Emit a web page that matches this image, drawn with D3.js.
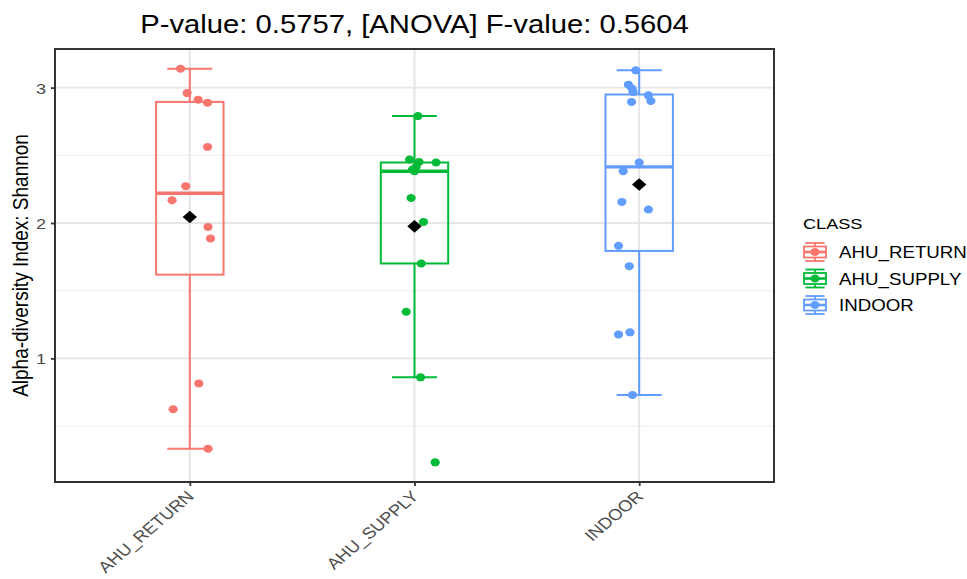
<!DOCTYPE html>
<html>
<head>
<meta charset="utf-8">
<script src="https://cdn.jsdelivr.net/npm/d3@7"></script>
<style>
  html, body { margin: 0; padding: 0; background: #fff; }
  svg { display: block; }
  svg text { font-family: "Liberation Sans", Arial, Helvetica, sans-serif; }
</style>
</head>
<body>
<svg id="chart" width="967" height="579"></svg>
<script>
// ---------------- data ----------------
const categories = ["AHU_RETURN", "AHU_SUPPLY", "INDOOR"];
const colors = ["#F8766D", "#00BA38", "#619CFF"];

// Shannon index values of each sample, per class
const returnValues = [3.140, 2.960, 2.911, 2.889, 2.562, 2.272, 2.168, 1.971, 1.886, 0.815, 0.624, 0.333];
const supplyValues = [2.790, 2.469, 2.451, 2.447, 2.414, 2.395, 2.382, 2.185, 2.008, 1.701, 1.344, 0.860, 0.232];
const indoorValues = [3.128, 3.022, 2.993, 2.968, 2.943, 2.901, 2.894, 2.447, 2.382, 2.156, 2.100, 1.831, 1.681, 1.192, 1.177, 0.729];

// horizontal jitter of each sample, as a fraction of the category step
const returnJitter = [-0.041, -0.012, 0.037, 0.079, 0.079, -0.018, -0.079, 0.081, 0.092, 0.040, -0.074, 0.081];
const supplyJitter = [0.015, -0.022, 0.020, 0.096, 0.007, -0.009, 0.000, -0.015, 0.040, 0.030, -0.037, 0.027, 0.092];
const indoorJitter = [-0.015, -0.048, -0.032, -0.027, 0.041, 0.052, -0.034, 0.000, -0.071, -0.077, 0.041, -0.092, -0.044, -0.041, -0.092, -0.030];

const yTicks = [1, 2, 3];
const yMinorTicks = [0.5, 1.5, 2.5];

const titleText = "P-value: 0.5757, [ANOVA] F-value: 0.5604";
const yTitle = "Alpha-diversity Index: Shannon";
const legendTitle = "CLASS";

// ---------------- layout ----------------
const SX = 1.17; // horizontal stretch of the original picture
const svg = d3.select("#chart");
const panel = { left: 55, right: 774, top: 49, bottom: 482 };

const groups = [
  { name: categories[0], values: returnValues, jitter: returnJitter, color: colors[0] },
  { name: categories[1], values: supplyValues, jitter: supplyJitter, color: colors[1] },
  { name: categories[2], values: indoorValues, jitter: indoorJitter, color: colors[2] }
];

groups.forEach(g => {
  const s = g.values.slice().sort(d3.ascending);
  g.q1 = d3.quantile(s, 0.25);
  g.med = d3.quantile(s, 0.5);
  g.q3 = d3.quantile(s, 0.75);
  const iqr = g.q3 - g.q1;
  g.lo = d3.min(s.filter(v => v >= g.q1 - 1.5 * iqr));
  g.hi = d3.max(s.filter(v => v <= g.q3 + 1.5 * iqr));
  g.mean = d3.mean(s);
});

const all = groups.flatMap(g => g.values);
const [vmin, vmax] = d3.extent(all);
const pad = (vmax - vmin) * 0.05;

const x = d3.scalePoint().domain(categories).range([panel.left, panel.right]).padding(0.6);
const step = x.step();
const y = d3.scaleLinear().domain([vmin - pad, vmax + pad]).range([panel.bottom, panel.top]);

// ---------------- panel & grid ----------------
const grid = svg.append("g");
grid.selectAll("line.minor").data(yMinorTicks).join("line")
  .attr("x1", panel.left).attr("x2", panel.right)
  .attr("y1", d => y(d)).attr("y2", d => y(d))
  .attr("stroke", "#f0f0f0").attr("stroke-width", 1.2);
grid.selectAll("line.major").data(yTicks).join("line")
  .attr("x1", panel.left).attr("x2", panel.right)
  .attr("y1", d => y(d)).attr("y2", d => y(d))
  .attr("stroke", "#e6e6e6").attr("stroke-width", 1.8);
grid.selectAll("line.vmajor").data(categories).join("line")
  .attr("x1", d => x(d)).attr("x2", d => x(d))
  .attr("y1", panel.top).attr("y2", panel.bottom)
  .attr("stroke", "#e6e6e6").attr("stroke-width", 2);

// ---------------- boxes ----------------
const boxW = step * 0.3;
const capW = step * 0.2;
const marks = svg.append("g");

groups.forEach(g => {
  const cx = x(g.name);
  const gg = marks.append("g").attr("stroke", g.color).attr("fill", "none");
  gg.append("line").attr("x1", cx).attr("x2", cx).attr("y1", y(g.hi)).attr("y2", y(g.q3)).attr("stroke-width", 2);
  gg.append("line").attr("x1", cx).attr("x2", cx).attr("y1", y(g.q1)).attr("y2", y(g.lo)).attr("stroke-width", 2);
  gg.append("line").attr("x1", cx - capW / 2).attr("x2", cx + capW / 2).attr("y1", y(g.hi)).attr("y2", y(g.hi)).attr("stroke-width", 2);
  gg.append("line").attr("x1", cx - capW / 2).attr("x2", cx + capW / 2).attr("y1", y(g.lo)).attr("y2", y(g.lo)).attr("stroke-width", 2);
  gg.append("rect").attr("x", cx - boxW / 2).attr("width", boxW)
    .attr("y", y(g.q3)).attr("height", y(g.q1) - y(g.q3))
    .attr("stroke-width", 2);
  gg.append("line").attr("x1", cx - boxW / 2).attr("x2", cx + boxW / 2)
    .attr("y1", y(g.med)).attr("y2", y(g.med)).attr("stroke-width", 3.4);
});

// jitter points
groups.forEach(g => {
  marks.append("g").selectAll("ellipse").data(g.values).join("ellipse")
    .attr("cx", (d, i) => x(g.name) + g.jitter[i] * step)
    .attr("cy", d => y(d))
    .attr("rx", 4.6).attr("ry", 4.0)
    .attr("fill", g.color);
});

// mean diamonds
const dmx = 7.2, dmy = 6.3;
groups.forEach(g => {
  const cx = x(g.name), cy = y(g.mean);
  marks.append("path")
    .attr("d", `M${cx},${cy - dmy}L${cx + dmx},${cy}L${cx},${cy + dmy}L${cx - dmx},${cy}Z`)
    .attr("fill", "#000");
});

// panel border
svg.append("rect")
  .attr("x", panel.left).attr("y", panel.top)
  .attr("width", panel.right - panel.left).attr("height", panel.bottom - panel.top)
  .attr("fill", "none").attr("stroke", "#333333").attr("stroke-width", 2);

// ---------------- axes ----------------
const yAxis = svg.append("g").attr("transform", `translate(${panel.left},0)`)
  .call(d3.axisLeft(y).tickValues(yTicks).tickSize(4).tickPadding(5).tickFormat(d3.format("d")));
yAxis.attr("font-family", null).attr("font-size", null);
yAxis.select(".domain").remove();
yAxis.selectAll("line").attr("stroke", "#333333").attr("stroke-width", 1.8);
yAxis.selectAll("text")
  .attr("fill", "#4d4d4d").style("font-size", "15.5px")
  .attr("x", null).attr("dy", "0.35em")
  .attr("transform", `translate(-9,0) scale(${SX},1)`);

const xAxis = svg.append("g").attr("transform", `translate(0,${panel.bottom})`)
  .call(d3.axisBottom(x).tickSize(4).tickFormat(d => d));
xAxis.attr("font-family", null).attr("font-size", null);
xAxis.select(".domain").remove();
xAxis.selectAll("line").attr("stroke", "#333333").attr("stroke-width", 1.8);
xAxis.selectAll("text")
  .attr("fill", "#4d4d4d").style("font-size", "15.8px")
  .attr("text-anchor", "end")
  .attr("dy", null).attr("y", 0)
  .attr("dominant-baseline", "hanging")
  .attr("transform", `translate(-5,7) scale(${SX},1) rotate(-45)`);

// ---------------- titles ----------------
svg.append("text")
  .attr("transform", `translate(${(panel.left + panel.right) / 2},33) scale(${SX},1)`)
  .attr("text-anchor", "middle")
  .style("font-size", "25px").attr("fill", "#000")
  .text(titleText);

svg.append("text")
  .attr("transform", `translate(28,${(panel.top + panel.bottom) / 2}) scale(${SX},1) rotate(-90)`)
  .attr("text-anchor", "middle")
  .style("font-size", "19px").attr("fill", "#000")
  .text(yTitle);

// ---------------- legend ----------------
const lg = svg.append("g").attr("transform", "translate(803,0)");
lg.append("text").attr("transform", `translate(0,229) scale(${SX},1)`)
  .style("font-size", "15.5px").attr("fill", "#000").text(legendTitle);
const keyY = [252, 278.5, 305];
groups.forEach((g, i) => {
  const k = lg.append("g").attr("transform", `translate(0,${keyY[i]})`);
  const kw = 24, kh = 18;
  const kk = k.append("g").attr("stroke", g.color).attr("fill", "none").attr("stroke-width", 1.8);
  kk.append("line").attr("x1", kw * 0.1).attr("x2", kw * 0.9).attr("y1", -kh / 2).attr("y2", -kh / 2);
  kk.append("line").attr("x1", kw * 0.1).attr("x2", kw * 0.9).attr("y1", kh / 2).attr("y2", kh / 2);
  kk.append("line").attr("x1", kw / 2).attr("x2", kw / 2).attr("y1", -kh / 2).attr("y2", kh / 2);
  kk.append("rect").attr("x", 1).attr("width", kw - 2).attr("y", -kh / 4 - 1).attr("height", kh / 2 + 2).attr("fill", "#fff");
  kk.append("line").attr("x1", 1).attr("x2", kw - 1).attr("y1", 0).attr("y2", 0).attr("stroke-width", 2.6);
  k.append("ellipse").attr("cx", kw / 2).attr("cy", 0).attr("rx", 4.6).attr("ry", 4.0).attr("fill", g.color);
  k.append("text").attr("transform", `translate(36,6) scale(${SX},1)`)
    .style("font-size", "16px").attr("fill", "#000").text(g.name);
});
</script>
</body>
</html>
